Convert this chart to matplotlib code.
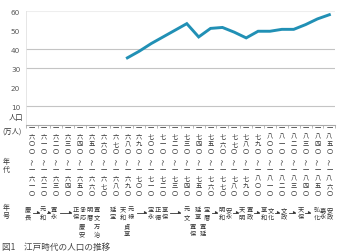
import matplotlib
matplotlib.use('Agg')
import matplotlib.pyplot as plt
from matplotlib.transforms import blended_transform_factory, IdentityTransform

plt.rcParams['font.family'] = ['Noto Sans CJK JP', 'DejaVu Sans']

# ---------------- data ----------------
start_years = [1600, 1610, 1620, 1630, 1640, 1650, 1660, 1670, 1680, 1690,
               1700, 1710, 1720, 1730, 1740, 1750, 1760, 1770, 1780, 1790,
               1800, 1810, 1820, 1830, 1840, 1850]
end_years = [1610, 1620, 1630, 1640, 1650, 1660, 1670, 1680, 1690, 1700,
             1710, 1720, 1730, 1740, 1750, 1760, 1770, 1780, 1790, 1800,
             1810, 1820, 1830, 1840, 1850, 1860]
pop_years = [1680, 1690, 1700, 1710, 1720, 1730, 1740, 1750, 1760, 1770,
             1780, 1790, 1800, 1810, 1820, 1830, 1840, 1850]
population = [35.5, 39.0, 43.0, 46.5, 50.0, 53.5, 46.5, 51.0, 51.5, 49.0,
              46.0, 49.5, 49.5, 50.5, 50.5, 53.0, 56.0, 58.2]
y_ticks = [10, 20, 30, 40, 50, 60]
eras_row1 = ['慶長', '元和', '寛永', '正保', '承応', '明暦', '寛文', '延宝', '天和',
             '元禄', '宝永', '正徳', '享保', '元文', '延享', '宝暦', '明和', '安永',
             '天明', '寛政', '享和', '文化', '文政', '天保', '弘化', '嘉永', '安政']
eras_row2 = ['慶安', '万治', '貞享', '寛保', '寛延']
caption = '図1　江戸時代の人口の推移'

# ---------------- layout (pixels, origin top-left) ----------------
W, H = 337, 253
era_x1 = [28, 43, 54, 76, 83, 90, 97, 113, 123, 131, 151, 158, 165, 187, 198,
          207, 222, 229, 242, 250, 264, 271, 284, 301, 317, 323, 330]
era_x2 = [82, 97, 127, 193, 203]
arrows = [(33, 40), (47, 51), (60, 72), (137, 147), (170, 181), (212, 218),
          (233, 239), (254, 260), (275, 280), (289, 296), (305, 311)]

KD = '〇一二三四五六七八九'
def kanji(n):
    return [KD[int(c)] for c in str(n)]

fig = plt.figure(figsize=(W / 100, H / 100), dpi=100)
axl, axr, axt, axb = 26.4, 335.3, 12.3, 126.3
ax = fig.add_axes([axl / W, (H - axb) / H, (axr - axl) / W, (axb - axt) / H])

xs = [start_years.index(y) for y in pop_years]
ax.plot(xs, population, color='#2190b5', lw=2.1, solid_joinstyle='miter')

ax.set_xlim(-0.5, 25.5)
ax.set_ylim(0, 60)
ax.set_yticks(y_ticks)
ax.set_yticklabels([str(v) for v in y_ticks], family='DejaVu Sans')
ax.tick_params(axis='y', length=0, pad=4.5, labelsize=5.2, labelcolor='#555555')
ax.set_xticks([i - 0.5 for i in range(len(start_years) + 1)])
ax.set_xticklabels([])
ax.tick_params(axis='x', length=2.2, width=0.6, color='#aaaaaa', direction='out')

for v, c in [(10, '#c4c4c4'), (30, '#c4c4c4'), (40, '#c4c4c4'), (60, '#eeeeee')]:
    ax.axhline(v, color=c, lw=0.8, zorder=0)
for s in ['top', 'right']:
    ax.spines[s].set_visible(False)
ax.spines['left'].set_color('#e2e2e2')
ax.spines['left'].set_linewidth(0.6)
ax.spines['bottom'].set_color('#aaaaaa')
ax.spines['bottom'].set_linewidth(0.8)

# ---------------- texts ----------------
px = IdentityTransform()
bt = blended_transform_factory(ax.transData, px)
tc = '#333333'
fs_col = 4.5

top_rows = [128, 136, 144, 152]
bot_rows = [170.5, 178.3, 186.1, 194]
for i, (sy, ey) in enumerate(zip(start_years, end_years)):
    for ch, yy in zip(kanji(sy), top_rows):
        ax.text(i, H - yy, ch, transform=bt, ha='center', va='center',
                fontsize=fs_col, color=tc, clip_on=False)
    ax.text(i, H - 162, '〜', transform=bt, ha='center', va='center',
            fontsize=fs_col, color=tc, rotation=90, clip_on=False)
    for ch, yy in zip(kanji(ey), bot_rows):
        ax.text(i, H - yy, ch, transform=bt, ha='center', va='center',
                fontsize=fs_col, color=tc, clip_on=False)

def vtext(x, ys, s, fs=4.5):
    for ch, yy in zip(s, ys):
        fig.text(x / W, (H - yy) / H, ch, ha='center', va='center',
                 fontsize=fs, color=tc)

fig.text(23 / W, (H - 118) / H, '人口', ha='right', va='center', fontsize=5.2, color=tc)
fig.text(22 / W, (H - 132) / H, '(万人)', ha='right', va='center', fontsize=5.2, color=tc)
vtext(6, [162, 170], '年代', 5)
vtext(6, [208, 216], '年号', 5)

for name, x in zip(eras_row1, era_x1):
    vtext(x, [210, 217.5], name)
for name, x in zip(eras_row2, era_x2):
    vtext(x, [226.5, 234], name)
for x1, x2 in arrows:
    fig.add_artist(plt.Line2D([x1 / W, (x2 - 1.5) / W], [(H - 213.5) / H] * 2,
                              color=tc, lw=0.6))
    ax.annotate('', xy=(x2, H - 213.5), xytext=(x2 - 2, H - 213.5),
                xycoords='figure pixels', textcoords='figure pixels',
                arrowprops=dict(arrowstyle='-|>', color=tc, lw=0.5,
                                mutation_scale=3.5, shrinkA=0, shrinkB=0))

fig.text(2 / W, 1.5 / H, caption, ha='left', va='bottom', fontsize=6.2,
         color='#444444')

fig.savefig('out.png', dpi=100)
